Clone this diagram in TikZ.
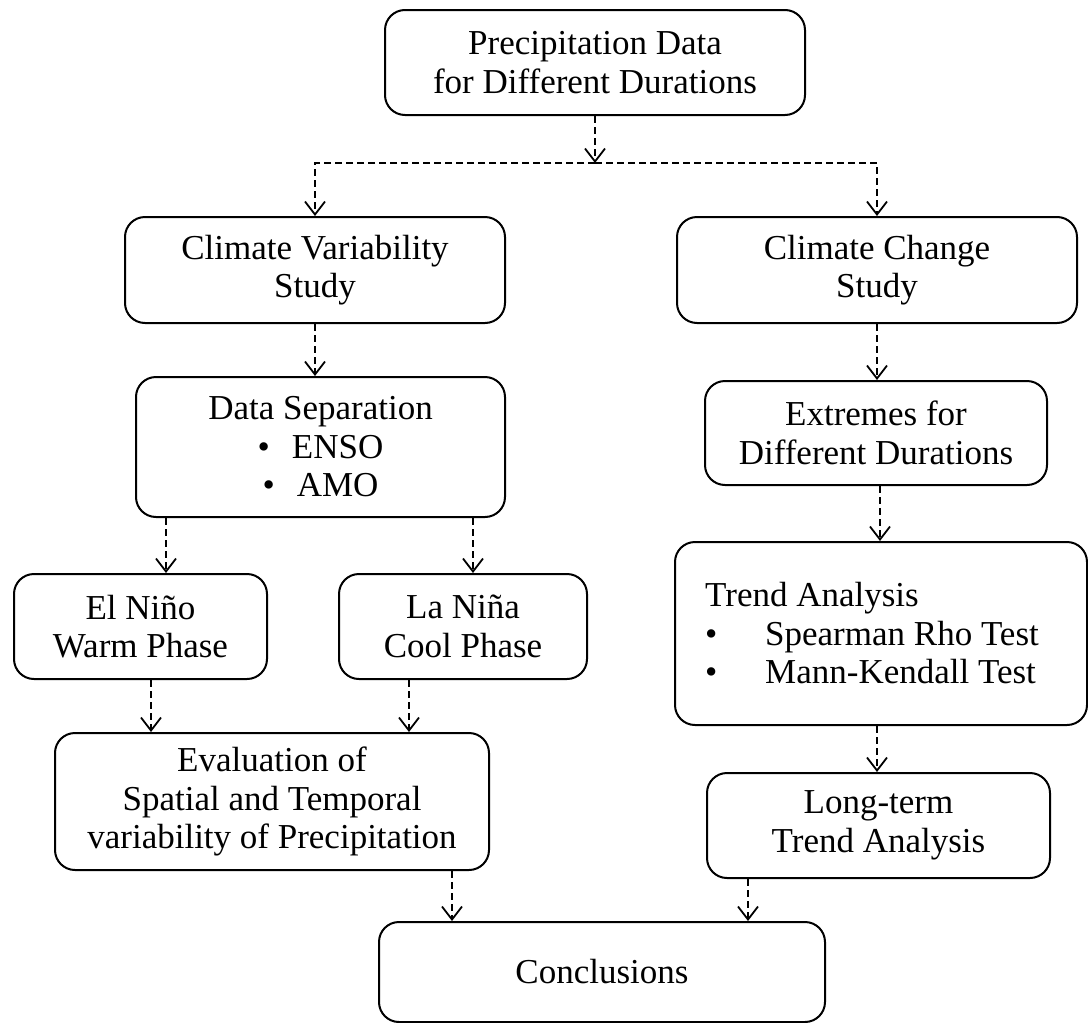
\documentclass[tikz,border=0pt]{standalone}
\usepackage{fontspec}
\setmainfont{Liberation Serif}
\usetikzlibrary{arrows.meta}
\newcommand\boxfont{\fontsize{35}{38.5}\selectfont}
\tikzset{
  box/.style={draw, line width=2pt, rounded corners=20pt, align=center, inner sep=0pt, font=\boxfont},
  conn/.style={line width=1.8pt, dash pattern=on 7pt off 4pt, -{Straight Barb[length=13pt,width=20pt,line width=1.8pt]}},
  txt/.style={inner sep=0pt, font=\boxfont}
}
\begin{document}
\begin{tikzpicture}[x=1pt,y=-1pt]
\useasboundingbox (0,0) rectangle (1088,1023);
\node[box, minimum width=420pt, minimum height=105pt] (top) at (595,62.5) {Precipitation Data\\for Different Durations};
\node[box, minimum width=380pt, minimum height=106pt] (cv) at (315,270) {Climate Variability\\Study};
\node[box, minimum width=400pt, minimum height=106pt] (cc) at (877,270) {Climate Change\\Study};
\node[box, minimum width=369pt, minimum height=140pt] (ds) at (320.5,447) {Data Separation\\{\textbullet}\hspace{22pt}ENSO\\{\textbullet}\hspace{22pt}AMO};
\node[box, minimum width=342pt, minimum height=104pt] (ex) at (876,433) {Extremes for\\Different Durations};
\node[box, minimum width=253pt, minimum height=105pt] (eln) at (140.5,626.5) {El Niño\\Warm Phase};
\node[box, minimum width=248pt, minimum height=105pt] (lan) at (463,626.5) {La Niña\\Cool Phase};
\node[box, minimum width=412pt, minimum height=183pt] (ta) at (881,633.5) {};
\node[txt, anchor=west, align=left] (tatext) at (705,633.5) {Trend Analysis\\\makebox[60pt][l]{\textbullet}Spearman Rho Test\\\makebox[60pt][l]{\textbullet}Mann-Kendall Test};
\node[box, minimum width=434pt, minimum height=137pt] (ev) at (272,801.5) {Evaluation of\\Spatial and Temporal\\variability of Precipitation};
\node[box, minimum width=343pt, minimum height=105pt] (lt) at (878.5,825.5) {Long-term\\Trend Analysis};
\node[box, minimum width=446pt, minimum height=100pt] (co) at (602,972) {Conclusions};
\coordinate (j) at (595,163);
\coordinate (x166) at (166,0);
\coordinate (x473) at (473,0);
\coordinate (x151) at (151,0);
\coordinate (x409) at (409,0);
\coordinate (x452) at (452,0);
\coordinate (x748) at (748,0);
\coordinate (x880) at (880,0);
\coordinate (x877) at (877,0);
\draw[conn] (top.south) -- (j);
\draw[conn] (j) -| (cv.north);
\draw[conn] (j) -| (cc.north);
\draw[conn] (cv.south) -- (ds.north -| cv.south);
\draw[conn] (cc.south) -- (ex.north -| cc.south);
\draw[conn] (ex.south -| x880) -- (ta.north -| x880);
\draw[conn] (ds.south -| x166) -- (eln.north -| x166);
\draw[conn] (ds.south -| x473) -- (lan.north -| x473);
\draw[conn] (eln.south -| x151) -- (ev.north -| x151);
\draw[conn] (lan.south -| x409) -- (ev.north -| x409);
\draw[conn] (ta.south -| x877) -- (lt.north -| x877);
\draw[conn] (ev.south -| x452) -- (co.north -| x452);
\draw[conn] (lt.south -| x748) -- (co.north -| x748);
\end{tikzpicture}
\end{document}
